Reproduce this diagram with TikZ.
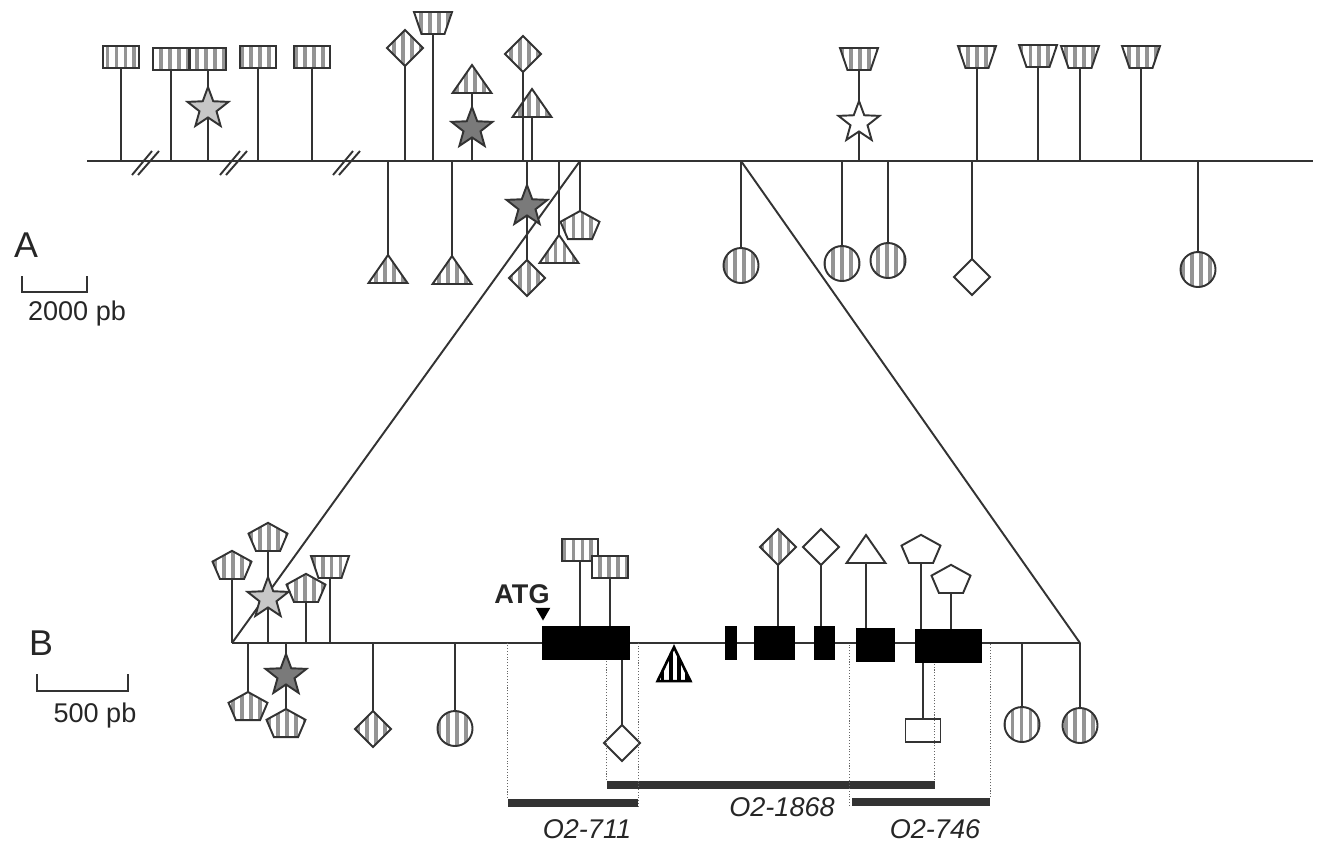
\documentclass[tikz,border=0pt]{standalone}
\usepackage{fontspec}
\setmainfont{Liberation Sans}
\usetikzlibrary{shapes.geometric,patterns.meta}
\newcommand{\pxu}{0.02cm}
\tikzset{
  ink/.style={draw=black!80, line width=1.1pt},
  mk/.style={ink, inner sep=0pt, outer sep=0pt, preaction={fill=white}},
  strp/.style={pattern={Lines[angle=90,distance=5.1pt,line width=2.2pt]}, pattern color=black!42},
  wht/.style={fill=white},
  box/.style={mk, rectangle, minimum width=36*\pxu, minimum height=22*\pxu},
  trap/.style={mk, inner sep=0.3pt, trapezium, shape border rotate=180, trapezium stretches=true, trapezium angle=72, minimum width=38*\pxu, minimum height=22*\pxu},
  dia/.style={mk, diamond, minimum width=36*\pxu, minimum height=36*\pxu},
  tri/.style={mk, regular polygon, regular polygon sides=3, minimum size=45*\pxu, yscale=0.83},
  pent/.style={mk, regular polygon, regular polygon sides=5, minimum size=41*\pxu, yscale=0.76},
  blob/.style={mk, circle, minimum size=35*\pxu},
  starm/.style={mk, star, star points=5, star point ratio=2.4, minimum size=43*\pxu},
  htri/.style={draw=black, line width=1.5pt, inner sep=0pt, regular polygon, regular polygon sides=3, minimum size=38*\pxu, yscale=1.19, preaction={fill=white}, pattern={Lines[angle=90,distance=4.6pt,line width=2pt]}, pattern color=black},
  exon/.style={fill=black, inner sep=0pt, minimum height=34*\pxu},
  bar/.style={fill=black!80, inner sep=0pt, minimum height=8*\pxu},
  dots/.style={densely dotted, line width=0.6pt, draw=black!60},
  txt/.style={inner sep=0pt, anchor=base, text=black!85, font=\fontsize{15.4}{18}\selectfont},
  ital/.style={txt, font=\fontsize{15.4}{18}\selectfont\itshape},
  big/.style={txt, font=\fontsize{20.4}{24}\selectfont}
}
\begin{document}
\begin{tikzpicture}[x=0.02cm, y=-0.02cm]
\useasboundingbox (0,0) rectangle (1317,843);
\coordinate (LA) at (0,161);
\coordinate (LB) at (0,643);
\coordinate (a0) at (87,161);
\coordinate (a9) at (1313,161);
\coordinate (a1) at (580,161);
\coordinate (a2) at (741,161);
\coordinate (b1) at (232,643);
\coordinate (b2) at (1080,643);
\draw[ink] (a0) -- (a9);
\draw[ink] (b1) -- (b2);
\draw[ink] (a1) -- (b1) (a2) -- (b2);
\foreach \x in {145,233,346}
  \draw[ink] (\x-13,175) -- (\x+7,151) (\x-7,175) -- (\x+14,151);

% map A, above the line
\foreach \i/\x/\y in {1/121/68,2/171/70,3/208/70,4/258/68,5/312/68}
  \node[box,strp,anchor=south] (ra\i) at (\x,\y) {};
\foreach \i/\x/\y in {1/433/34,2/859/70,3/977/68,4/1038/67,5/1080/68,6/1141/68}
  \node[trap,strp,anchor=south] (ta\i) at (\x,\y) {};
\node[dia,strp,anchor=south] (da1) at (405,66) {};
\node[dia,strp,anchor=south] (da2) at (523,72) {};
\node[tri,strp,anchor=south] (ga1) at (472,93) {};
\node[tri,strp,anchor=south] (ga2) at (532,117) {};
\node[starm,fill=black!22,anchor=north] (sa1) at (208,87) {};
\node[starm,fill=black!52,anchor=north] (sa2) at (472,107) {};
\node[starm,wht,anchor=north] (sa3) at (859,101) {};
\foreach \n in {ra1,ra2,ra4,ra5,ta1,ta3,ta4,ta5,ta6,da1,da2,ga2}
  \draw[ink] (\n.south) -- (\n.south |- LA);
\draw[ink] (ra3.south) -- (sa1.north) (sa1.south) -- (sa1.south |- LA);
\draw[ink] (ga1.south) -- (sa2.north) (sa2.south) -- (sa2.south |- LA);
\draw[ink] (ta2.south) -- (sa3.north) (sa3.south) -- (sa3.south |- LA);

% map A, below the line
\foreach \i/\x/\y in {1/388/255,2/452/256,3/559/235}
  \node[tri,strp,anchor=north] (gb\i) at (\x,\y) {};
\foreach \i/\x/\y in {1/741/248,2/842/246,3/888/243,4/1198/252}
  \node[blob,strp,anchor=north] (cb\i) at (\x,\y) {};
\node[pent,strp,anchor=north] (pb1) at (580,211) {};
\node[dia,strp,anchor=north] (db1) at (527,260) {};
\node[dia,wht,anchor=north] (db2) at (972,259) {};
\node[starm,fill=black!52,anchor=north] (sb1) at (527,185) {};
\foreach \n in {gb1,gb2,gb3,cb1,cb2,cb3,cb4,pb1,db2,sb1}
  \draw[ink] (\n.north) -- (\n.north |- LA);
\draw[ink] (sb1.south) -- (db1.north);

% map B
\foreach \n/\x/\w/\y in {1/586/88/643,2/731/12/643,3/774.5/41/643,4/824/21/643,5/875.5/39/645,6/948.5/67/646}
  \node[exon,minimum width=\w*\pxu] (e\n) at (\x,\y) {};
\foreach \i/\x/\y in {1/232/579,2/268/551,3/306/602}
  \node[pent,strp,anchor=south] (pc\i) at (\x,\y) {};
\node[trap,strp,anchor=south] (tc1) at (330,578) {};
\node[starm,fill=black!22,anchor=north] (sc1) at (268,577) {};
\node[box,strp,anchor=south] (rc1) at (580,561) {};
\node[box,strp,anchor=south] (rc2) at (610,578) {};
\node[dia,strp,anchor=south] (dc1) at (778,565) {};
\node[dia,wht,anchor=south] (dc2) at (821,565) {};
\node[tri,wht,anchor=south] (gc1) at (866,563) {};
\node[pent,wht,anchor=south] (pc4) at (921,563) {};
\node[pent,wht,anchor=south] (pc5) at (951,593) {};
\foreach \n in {pc1,pc3,tc1,sc1}
  \draw[ink] (\n.south) -- (\n.south |- LB);
\draw[ink] (pc2.south) -- (sc1.north);
\draw[ink] (rc1.south) -- (rc1.south |- e1.north) (rc2.south) -- (rc2.south |- e1.north);
\draw[ink] (dc1.south) -- (dc1.south |- e3.north) (dc2.south) -- (dc2.south |- e4.north);
\draw[ink] (gc1.south) -- (gc1.south |- e5.north);
\draw[ink] (pc4.south) -- (pc4.south |- e6.north) (pc5.south) -- (pc5.south |- e6.north);

\node[pent,strp,anchor=north] (pd1) at (248,692) {};
\node[pent,strp,anchor=north] (pd2) at (286,709) {};
\node[starm,fill=black!52,anchor=north] (sd1) at (286,654) {};
\node[dia,strp,anchor=north] (dd1) at (373,711) {};
\node[dia,wht,anchor=north] (dd2) at (622,725) {};
\node[box,wht,anchor=north,minimum height=23*\pxu,minimum width=35*\pxu] (rd1) at (923,719) {};
\foreach \i/\x/\y in {1/455/711,2/1022/707,3/1080/708}
  \node[blob,strp,anchor=north] (cd\i) at (\x,\y) {};
\node[htri,anchor=north] (hd1) at (674,643) {};
\foreach \n in {pd1,sd1,dd1,cd1,cd2,cd3}
  \draw[ink] (\n.north) -- (\n.north |- LB);
\draw[ink] (sd1.south) -- (pd2.north);
\draw[ink] (dd2.north) -- (dd2.north |- e1.south);
\draw[ink] (rd1.north) -- (rd1.north |- e6.south);

\node[txt,font=\fontsize{15.4}{18}\selectfont\bfseries] (atg) at (522,603) {ATG};
\node[fill=black, regular polygon, regular polygon sides=3, rotate=180, inner sep=0pt, minimum size=17*\pxu] (atgp) at (543,612) {};

% probes
\node[bar,minimum width=130*\pxu] (o1) at (573,802.5) {};
\node[bar,minimum width=328*\pxu] (o2) at (770.5,784.5) {};
\node[bar,minimum width=138*\pxu] (o3) at (921,801.5) {};
\draw[dots] (o1.north west) -- (o1.north west |- LB);
\draw[dots] (o1.south east) -- (o1.south east |- LB);
\draw[dots] (o2.north west) -- (o2.north west |- e1.south);
\draw[dots] (o2.north east) -- (o2.north east |- e6.south);
\draw[dots] ([xshift=-2*\pxu]o3.south west) -- ([xshift=-2*\pxu]o3.south west |- LB);
\draw[dots] (o3.north east) -- (o3.north east |- LB);
\node[ital] (l1) at (587,838) {O2-711};
\node[ital] (l2) at (782,816) {O2-1868};
\node[ital] (l3) at (935,838) {O2-746};

% scales
\node[big] (lA) at (26,257) {A};
\draw[black!80, line width=0.8pt] (22,276) |- (87,292) -- (87,276);
\node[txt] (sA) at (77,320) {2000 pb};
\node[big] (lB) at (41,655) {B};
\draw[black!80, line width=0.8pt] (37,674) |- (128,691) -- (128,674);
\node[txt] (sB) at (95,722) {500 pb};
\end{tikzpicture}
\end{document}
